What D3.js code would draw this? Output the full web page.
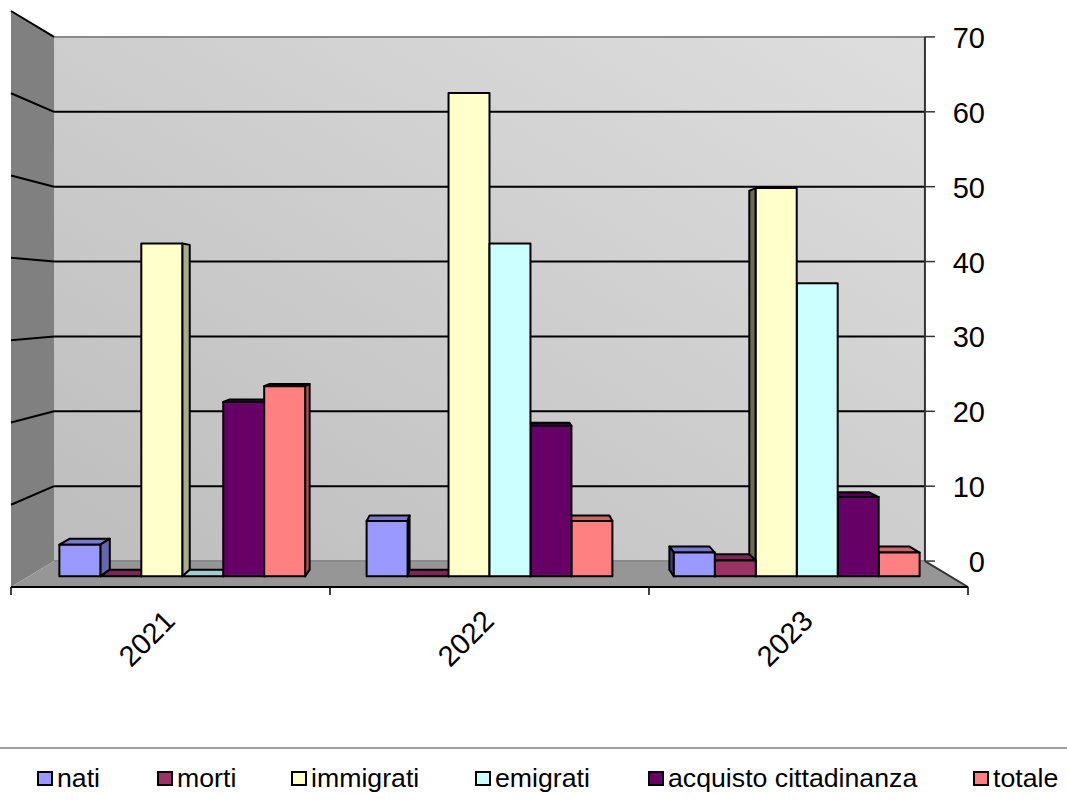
<!DOCTYPE html>
<html lang="it">
<head>
<meta charset="utf-8">
<title>Bilancio demografico</title>
<script src="https://cdn.jsdelivr.net/npm/d3@7/dist/d3.min.js"></script>
<style>
  html, body { margin: 0; padding: 0; background: #fff; }
  svg { display: block; }
  text { font-family: "Liberation Sans", Arial, sans-serif; fill: #000; }
</style>
</head>
<body>
<svg id="chart" width="1067" height="803"></svg>
<script>
const years = ["2021", "2022", "2023"];
const seriesNames = ["nati", "morti", "immigrati", "emigrati", "acquisto cittadinanza", "totale"];
const seriesColors = ["#9999ff", "#993366", "#ffffcc", "#ccffff", "#660066", "#ff8080"];
const nati = [4, 7, 3];
const morti = [0, 0, 2];
const immigrati = [42, 61, 49];
const emigrati = [0, 42, 37];
const acquisto = [22, 19, 10];
const totale = [24, 7, 3];
const seriesValues = [nati, morti, immigrati, emigrati, acquisto, totale];
const valueTicks = [0, 10, 20, 30, 40, 50, 60, 70];

const svg = d3.select("#chart");

// Front plane of the 3D box; depth runs from 0 (front) to 1 (back wall).
const x0 = d3.scaleBand().domain(years).range([11, 968]);
const x1 = d3.scaleBand().domain(seriesNames)
  .range([0, x0.bandwidth()]).paddingOuter(0.75).paddingInner(0);
const y = d3.scaleLinear().domain([0, 70]).range([587, 11]);

const vanish = { x: 489.5, y: 299 };
const shrink = 0.09;
const barDepth = [0.41, 0.67];

function project(px, py, depth) {
  const s = 1 - shrink * depth;
  return [vanish.x + (px - vanish.x) * s, vanish.y + (py - vanish.y) * s];
}
const poly = pts => pts.map(p => p.join(",")).join(" ");
const box = { l: x0.range()[0], r: x0.range()[1], b: y(0), t: y(70) };

// Gradient of the back wall
const grad = svg.append("defs").append("linearGradient")
  .attr("id", "wall").attr("x1", "100%").attr("y1", "0%").attr("x2", "0%").attr("y2", "100%");
grad.append("stop").attr("offset", "0%").attr("stop-color", "#dedede");
grad.append("stop").attr("offset", "100%").attr("stop-color", "#bdbdbd");

const walls = svg.append("g");
walls.append("polygon")
  .attr("points", poly([project(box.l, box.t, 1), project(box.r, box.t, 1), project(box.r, box.b, 1), project(box.l, box.b, 1)]))
  .attr("fill", "url(#wall)");
walls.append("polygon")
  .attr("points", poly([project(box.l, box.t, 0), project(box.l, box.t, 1), project(box.l, box.b, 1), project(box.l, box.b, 0)]))
  .attr("fill", "#808080");
walls.append("polygon")
  .attr("points", poly([project(box.l, box.b, 0), project(box.l, box.b, 1), project(box.r, box.b, 1), project(box.r, box.b, 0)]))
  .attr("fill", "#969696");

// Gridlines across the back wall and down the left wall
const grid = svg.append("g").attr("fill", "none").attr("stroke-width", 2);
valueTicks.forEach(v => {
  const a = project(box.l, y(v), 0), b = project(box.l, y(v), 1), c = project(box.r, y(v), 1);
  const edge = v === 0 || v === 70;
  grid.append("line")
    .attr("x1", b[0]).attr("y1", b[1]).attr("x2", c[0]).attr("y2", c[1])
    .attr("stroke", edge ? "#8a8a8a" : "#000");
  if (v > 0) {
    grid.append("line")
      .attr("x1", a[0]).attr("y1", a[1]).attr("x2", b[0]).attr("y2", b[1])
      .attr("stroke", "#000");
  }
});

// Edges of the box
const backBR = project(box.r, box.b, 1), backTR = project(box.r, box.t, 1);
grid.append("line").attr("x1", backTR[0]).attr("y1", backTR[1]).attr("x2", backBR[0]).attr("y2", backBR[1]).attr("stroke", "#333");
grid.append("line").attr("x1", backBR[0]).attr("y1", backBR[1]).attr("x2", box.r).attr("y2", box.b).attr("stroke", "#333");
grid.append("line").attr("x1", box.l).attr("y1", box.b).attr("x2", box.r).attr("y2", box.b).attr("stroke", "#000");

// Category ticks along the front edge
const tickXs = [box.l].concat(years.map(d => x0(d) + x0.bandwidth()));
svg.append("g").selectAll("line").data(tickXs).join("line")
  .attr("x1", d => d).attr("x2", d => d).attr("y1", box.b).attr("y2", box.b + 8)
  .attr("stroke", "#000").attr("stroke-width", 1.5);

// Value axis on the right of the back wall
const vAxis = svg.append("g");
valueTicks.forEach(v => {
  const p = project(box.r, y(v), 1);
  vAxis.append("line").attr("x1", p[0]).attr("x2", p[0] + 10).attr("y1", p[1]).attr("y2", p[1])
    .attr("stroke", "#333").attr("stroke-width", 1.5);
  vAxis.append("text").attr("x", p[0] + 60).attr("y", p[1] + 11)
    .attr("text-anchor", "end").attr("font-size", 29).text(v);
});

// Bars: outermost first, so that those nearer the centre overlap their neighbours
const bars = [];
years.forEach((yr, i) => seriesNames.forEach((name, j) => {
  bars.push({ left: x0(yr) + x1(name), width: x1.bandwidth(), value: seriesValues[j][i], color: seriesColors[j] });
}));
bars.sort((a, b) =>
  Math.abs(b.left + b.width / 2 - vanish.x) - Math.abs(a.left + a.width / 2 - vanish.x));

// Multiplies a colour's channels to shade the faces of a bar
function shade(color, k) {
  const c = d3.rgb(color);
  return d3.rgb(c.r * k, c.g * k, c.b * k).formatHex();
}

const barLayer = svg.append("g").attr("stroke", "#000").attr("stroke-width", 2).attr("stroke-linejoin", "round");
bars.forEach(d => {
  const [dn, df] = barDepth;
  const xl = d.left, xr = d.left + d.width, yb = y(0), yt = y(d.value);
  const f = [project(xl, yt, dn), project(xr, yt, dn), project(xr, yb, dn), project(xl, yb, dn)];
  if (yt > vanish.y) {
    barLayer.append("polygon")
      .attr("points", poly([project(xl, yt, df), project(xr, yt, df), project(xr, yt, dn), project(xl, yt, dn)]))
      .attr("fill", shade(d.color, 0.8));
  }
  if (xr < vanish.x) {
    barLayer.append("polygon")
      .attr("points", poly([project(xr, yt, dn), project(xr, yt, df), project(xr, yb, df), project(xr, yb, dn)]))
      .attr("fill", shade(d.color, 0.67));
  } else if (xl > vanish.x) {
    barLayer.append("polygon")
      .attr("points", poly([project(xl, yt, dn), project(xl, yt, df), project(xl, yb, df), project(xl, yb, dn)]))
      .attr("fill", shade(d.color, 0.42));
  }
  if (d.value > 0) {
    barLayer.append("polygon").attr("points", poly(f)).attr("fill", d.color);
  }
});

// Rotated year labels
svg.append("g").selectAll("text").data(years).join("text")
  .attr("transform", d => `translate(${x0(d) + x0.bandwidth() / 2 - 22},${640}) rotate(-45)`)
  .attr("text-anchor", "middle").attr("dominant-baseline", "middle")
  .attr("font-size", 29).text(d => d);

// Legend strip
svg.append("line").attr("x1", 0).attr("x2", 1067).attr("y1", 748).attr("y2", 748)
  .attr("stroke", "#808080").attr("stroke-width", 1.5);
const legendX = d3.scaleOrdinal().domain(seriesNames).range([38, 158, 292, 476, 649, 974]);
const legend = svg.append("g").selectAll("g").data(seriesNames).join("g")
  .attr("transform", d => `translate(${legendX(d)},772)`);
legend.append("rect").attr("width", 14).attr("height", 13)
  .attr("fill", (d, i) => seriesColors[i]).attr("stroke", "#000").attr("stroke-width", 2);
legend.append("text").attr("x", 19).attr("y", 14.5).attr("font-size", 26.7).text(d => d);
</script>
</body>
</html>
